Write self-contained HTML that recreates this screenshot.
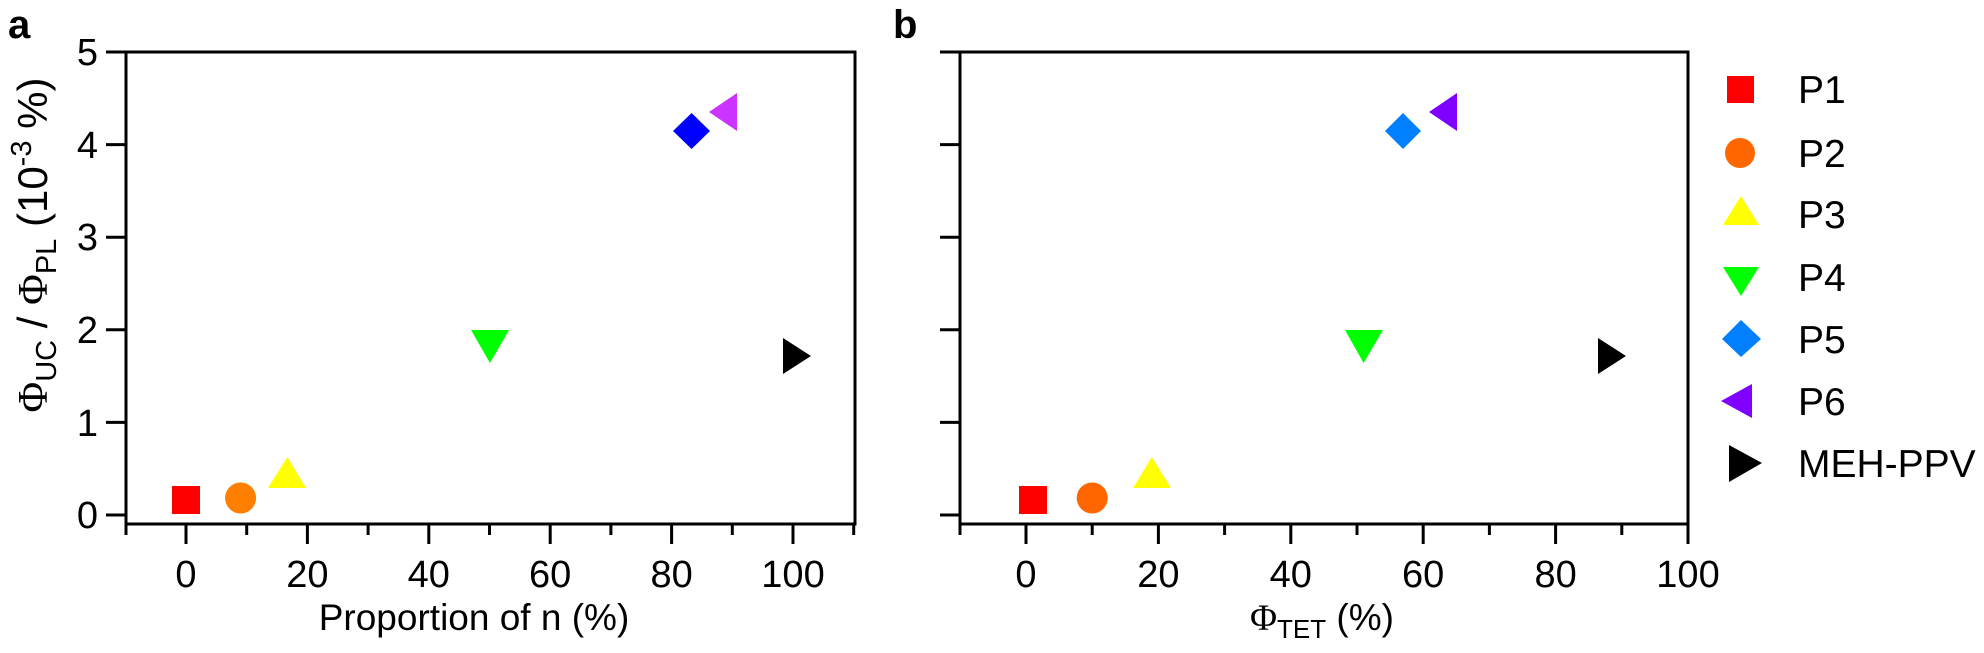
<!DOCTYPE html>
<html><head><meta charset="utf-8"><style>
html,body{margin:0;padding:0;background:#fff}
svg text{font-family:"Liberation Sans",sans-serif;fill:#000}
</style></head><body>
<svg width="1984" height="648" viewBox="0 0 1984 648" xmlns="http://www.w3.org/2000/svg">
<!-- Panel a -->
<text x="8" y="38" font-size="40" font-weight="bold">a</text>
<rect x="126" y="52" width="729" height="472" fill="none" stroke="#000" stroke-width="3"/>
<g stroke="#000" stroke-width="3">
<line x1="106" y1="52" x2="126" y2="52"/><line x1="106" y1="144.6" x2="126" y2="144.6"/>
<line x1="106" y1="237.2" x2="126" y2="237.2"/><line x1="106" y1="329.8" x2="126" y2="329.8"/>
<line x1="106" y1="422.4" x2="126" y2="422.4"/><line x1="106" y1="515" x2="126" y2="515"/>
<line x1="186" y1="524" x2="186" y2="544"/><line x1="307.4" y1="524" x2="307.4" y2="544"/>
<line x1="428.8" y1="524" x2="428.8" y2="544"/><line x1="550.2" y1="524" x2="550.2" y2="544"/>
<line x1="671.6" y1="524" x2="671.6" y2="544"/><line x1="793" y1="524" x2="793" y2="544"/>
<line x1="126" y1="524" x2="126" y2="535"/><line x1="246.7" y1="524" x2="246.7" y2="535"/>
<line x1="368.1" y1="524" x2="368.1" y2="535"/><line x1="489.5" y1="524" x2="489.5" y2="535"/>
<line x1="610.9" y1="524" x2="610.9" y2="535"/><line x1="732.3" y1="524" x2="732.3" y2="535"/>
<line x1="853.7" y1="524" x2="853.7" y2="535"/>
</g>
<g font-size="38" text-anchor="end">
<text x="98" y="65">5</text><text x="98" y="158">4</text><text x="98" y="250">3</text>
<text x="98" y="343">2</text><text x="98" y="436">1</text><text x="98" y="528">0</text>
</g>
<g font-size="38" text-anchor="middle">
<text x="186" y="587">0</text><text x="307.4" y="587">20</text><text x="428.8" y="587">40</text>
<text x="550.2" y="587">60</text><text x="671.6" y="587">80</text><text x="793" y="587">100</text>
</g>
<text x="474" y="630" font-size="37" text-anchor="middle">Proportion of n (%)</text>
<text transform="translate(47,245) rotate(-90)" font-size="42" text-anchor="middle"><tspan font-family="Liberation Serif">Φ</tspan><tspan font-size="29" dy="9">UC</tspan><tspan dy="-9"> / </tspan><tspan font-family="Liberation Serif">Φ</tspan><tspan font-size="29" dy="9">PL</tspan><tspan dy="-9"> (10</tspan><tspan font-size="29" dy="-16">-3</tspan><tspan dy="16"> %)</tspan></text>
<!-- data a -->
<rect x="172" y="486" width="28" height="28" fill="#ff0000"/>
<circle cx="240.6" cy="498" r="15.5" fill="#ff8000"/>
<polygon points="287.4,457 268,488 306,488" fill="#ffff00"/>
<polygon points="490,363 471,330 509,330" fill="#00ff00"/>
<polygon points="691.6,113 673,131 691.6,149 710,131" fill="#0000ff"/>
<polygon points="709,112 737,93 737,131" fill="#cc33ff"/>
<polygon points="811,356 783,338 783,374" fill="#000"/>
<!-- Panel b -->
<text x="893" y="38" font-size="40" font-weight="bold">b</text>
<rect x="960" y="52" width="728" height="472" fill="none" stroke="#000" stroke-width="3"/>
<g stroke="#000" stroke-width="3">
<line x1="940" y1="52" x2="960" y2="52"/><line x1="940" y1="144.6" x2="960" y2="144.6"/>
<line x1="940" y1="237.2" x2="960" y2="237.2"/><line x1="940" y1="329.8" x2="960" y2="329.8"/>
<line x1="940" y1="422.4" x2="960" y2="422.4"/><line x1="940" y1="515" x2="960" y2="515"/>
<line x1="1026" y1="524" x2="1026" y2="544"/><line x1="1158.4" y1="524" x2="1158.4" y2="544"/>
<line x1="1290.8" y1="524" x2="1290.8" y2="544"/><line x1="1423.2" y1="524" x2="1423.2" y2="544"/>
<line x1="1555.6" y1="524" x2="1555.6" y2="544"/><line x1="1688" y1="524" x2="1688" y2="544"/>
<line x1="960" y1="524" x2="960" y2="535"/><line x1="1092.2" y1="524" x2="1092.2" y2="535"/>
<line x1="1224.6" y1="524" x2="1224.6" y2="535"/><line x1="1357" y1="524" x2="1357" y2="535"/>
<line x1="1489.4" y1="524" x2="1489.4" y2="535"/><line x1="1621.8" y1="524" x2="1621.8" y2="535"/>
</g>
<g font-size="38" text-anchor="middle">
<text x="1026" y="587">0</text><text x="1158.4" y="587">20</text><text x="1290.8" y="587">40</text>
<text x="1423.2" y="587">60</text><text x="1555.6" y="587">80</text><text x="1688" y="587">100</text>
</g>
<text x="1322" y="630" font-size="37" text-anchor="middle"><tspan font-family="Liberation Serif">Φ</tspan><tspan font-size="26" dy="8">TET</tspan><tspan dy="-8"> (%)</tspan></text>
<!-- data b -->
<rect x="1019" y="486" width="28" height="28" fill="#ff0000"/>
<circle cx="1092.2" cy="498" r="15.5" fill="#ff6600"/>
<polygon points="1151.8,457 1133,488 1171,488" fill="#ffff00"/>
<polygon points="1363.6,363 1345,330 1383,330" fill="#00ff00"/>
<polygon points="1403,113 1385,131 1403,149 1421,131" fill="#0080ff"/>
<polygon points="1429,112 1457,93 1457,131" fill="#8000ff"/>
<polygon points="1626,356 1598,338 1598,374" fill="#000"/>
<!-- legend -->
<rect x="1727" y="76" width="27" height="27" fill="#ff0000"/>
<circle cx="1740" cy="153" r="15" fill="#ff6600"/>
<polygon points="1741,196 1723,225 1759,225" fill="#ffff00"/>
<polygon points="1741,296 1723,267 1759,267" fill="#00ff00"/>
<polygon points="1741,320 1722,339 1741,357 1761,339" fill="#0080ff"/>
<polygon points="1721,401 1752,384 1752,418" fill="#8000ff"/>
<polygon points="1762,463 1729,445 1729,482" fill="#000"/>
<g font-size="39">
<text x="1798" y="103">P1</text><text x="1798" y="167">P2</text><text x="1798" y="228">P3</text>
<text x="1798" y="291">P4</text><text x="1798" y="353">P5</text><text x="1798" y="415">P6</text>
<text x="1798" y="477">MEH-PPV</text>
</g>
</svg>
</body></html>
